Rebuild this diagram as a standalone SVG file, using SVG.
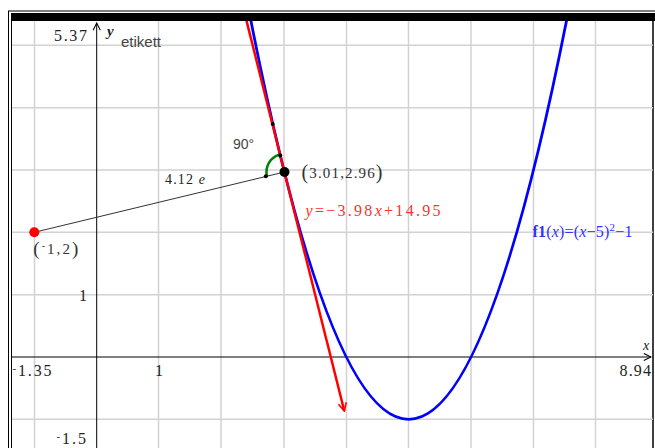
<svg xmlns="http://www.w3.org/2000/svg" width="655" height="448" viewBox="0 0 655 448">
<style>
.grid{stroke:#d2d2d2;stroke-width:1.5;fill:none}
.axis{stroke:#000;stroke-width:1;fill:none}
.num{font-family:"Liberation Serif",serif;font-size:16px;fill:#222}
.sans{font-family:"Liberation Sans",sans-serif;fill:#444}
</style>
<defs>
<clipPath id="plot"><rect x="12" y="21" width="641" height="430"/></clipPath>
<marker id="redArrow" viewBox="0 0 10 10" refX="9" refY="5" markerWidth="10" markerHeight="10" markerUnits="userSpaceOnUse" orient="auto">
<path d="M1 1 L9 5 L1 9" fill="none" stroke="#ff0000" stroke-width="1.6"/>
</marker>
<marker id="axArrow" viewBox="0 0 10 10" refX="9" refY="5" markerWidth="9" markerHeight="9" markerUnits="userSpaceOnUse" orient="auto">
<path d="M1 1 L9 5 L1 9" fill="none" stroke="#000" stroke-width="1.2"/>
</marker>
</defs>
<rect width="655" height="448" fill="#fff"/>
<g id="frame">
<rect x="8.5" y="11" width="650" height="445" fill="none" stroke="#000" stroke-width="1"/>
<rect x="11" y="13" width="648" height="8" fill="#000"/>
<line x1="11.5" y1="13" x2="11.5" y2="448" stroke="#000" stroke-width="1"/>
<line x1="653" y1="13" x2="653" y2="448" stroke="#000" stroke-width="1.5"/>
</g>
<g id="grid" class="grid" clip-path="url(#plot)">
<line x1="34.5" y1="21" x2="34.5" y2="448"/>
<line x1="158.5" y1="21" x2="158.5" y2="448"/>
<line x1="221" y1="21" x2="221" y2="448"/>
<line x1="284" y1="21" x2="284" y2="448"/>
<line x1="346.5" y1="21" x2="346.5" y2="448"/>
<line x1="408.5" y1="21" x2="408.5" y2="448"/>
<line x1="471" y1="21" x2="471" y2="448"/>
<line x1="533.5" y1="21" x2="533.5" y2="448"/>
<line x1="595.5" y1="21" x2="595.5" y2="448"/>
<line x1="12" y1="45.3" x2="653" y2="45.3"/>
<line x1="12" y1="107.7" x2="653" y2="107.7"/>
<line x1="12" y1="170" x2="653" y2="170"/>
<line x1="12" y1="232.3" x2="653" y2="232.3"/>
<line x1="12" y1="294.7" x2="653" y2="294.7"/>
<line x1="12" y1="419.3" x2="653" y2="419.3"/>
</g>
<g id="axes">
<line class="axis" x1="96.7" y1="448" x2="96.7" y2="23" marker-end="url(#axArrow)"/>
<line class="axis" x1="12" y1="357" x2="651" y2="357" marker-end="url(#axArrow)"/>
</g>
<g id="axis-labels">
<text class="num" x="87" y="41" text-anchor="end" font-size="17" textLength="33">5.37</text>
<text x="107" y="36" font-family="Liberation Serif,serif" font-style="italic" font-weight="bold" font-size="15" fill="#222">y</text>
<text class="sans" x="121" y="46.5" font-size="15" textLength="40">etikett</text>
<text class="num" x="79" y="301">1</text>
<text class="num" x="155" y="376">1</text>
<text class="num" x="12.5" y="376" textLength="39"><tspan font-size="11" dy="-4">-</tspan><tspan dy="4">1.35</tspan></text>
<text class="num" x="56.5" y="443.5" textLength="29.5"><tspan font-size="11" dy="-4">-</tspan><tspan dy="4">1.5</tspan></text>
<text class="num" x="619.5" y="376" textLength="31.5">8.94</text>
<text x="643" y="350" font-family="Liberation Serif,serif" font-style="italic" font-size="14" fill="#222">x</text>
</g>
<g id="parabola" clip-path="url(#plot)">
<path d="M248.4 8 Q408.7 830.7 569 8" fill="none" stroke="#0000ff" stroke-width="2.8"/>
</g>
<g id="connectors">
<line x1="34.3" y1="232.3" x2="284.5" y2="172" stroke="#333" stroke-width="1"/>
<g clip-path="url(#plot)">
<line x1="243.3" y1="8" x2="344.3" y2="411" stroke="#ff0000" stroke-width="2.5" marker-end="url(#redArrow)"/>
</g>
<path d="M267 176.3 A18 18 0 0 1 280.1 154.5" fill="none" stroke="#008000" stroke-width="2.5"/>
</g>
<g id="point-tangent">
<circle cx="284.5" cy="172" r="5" fill="#000"/>
<circle cx="265.8" cy="176.3" r="2" fill="#000"/>
<circle cx="280.3" cy="155.5" r="2" fill="#000"/>
<circle cx="272.7" cy="124" r="2" fill="#000"/>
<text x="301.5" y="178" font-family="Liberation Serif,serif" font-size="15" fill="#333" textLength="81"><tspan font-size="20" dy="1">(</tspan><tspan dy="-1">3.01,2.96</tspan><tspan font-size="20" dy="1">)</tspan></text>
</g>
<g id="point-red">
<circle cx="34.3" cy="232.3" r="5" fill="#ff0000"/>
<text x="33.3" y="254" font-family="Liberation Serif,serif" font-size="15" fill="#333" textLength="45"><tspan font-size="19" dy="1">(</tspan><tspan font-size="10" dy="-6">-</tspan><tspan dy="5">1,2</tspan><tspan font-size="19" dy="1">)</tspan></text>
</g>
<g id="labels">
<text class="sans" x="233" y="149" font-size="14" fill="#333" textLength="21">90°</text>
<text x="165" y="183.5" font-family="Liberation Serif,serif" font-size="14" fill="#222" textLength="40">4.12 <tspan font-style="italic">e</tspan></text>
<text x="305.5" y="216" font-family="Liberation Serif,serif" font-size="16" fill="#ff3030" textLength="135"><tspan font-style="italic">y</tspan>=−3.98<tspan font-style="italic">x</tspan>+14.95</text>
<text x="532.5" y="237" font-family="Liberation Serif,serif" font-size="16" fill="#3030ff" textLength="100"><tspan font-weight="bold">f1</tspan>(<tspan font-style="italic">x</tspan>)=(<tspan font-style="italic">x</tspan>−5)<tspan font-size="11" dy="-6">2</tspan><tspan dy="6">−1</tspan></text>
</g>
</svg>
